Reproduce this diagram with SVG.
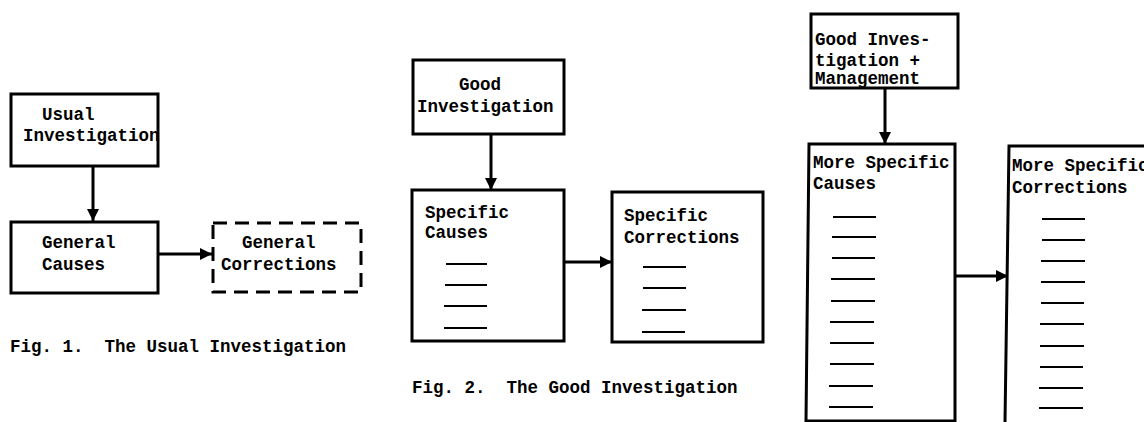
<svg xmlns="http://www.w3.org/2000/svg" width="1144" height="422" viewBox="0 0 1144 422">
<style>
.box{fill:none;stroke:#000;stroke-width:3}
.dash{fill:none;stroke:#000;stroke-width:3;stroke-dasharray:14 8}
.conn{fill:none;stroke:#000;stroke-width:3}
.blank{stroke:#000;stroke-width:2}
text{font-family:"Liberation Mono","Courier New",monospace;font-size:17.5px;fill:#000;font-weight:bold;white-space:pre}
</style>
<defs>
<marker id="ah" viewBox="0 0 10 10" refX="10" refY="5" markerWidth="4" markerHeight="4" orient="auto" markerUnits="strokeWidth">
<path d="M0,0 L10,5 L0,10 z" fill="#000"/>
</marker>
</defs>
<rect width="1144" height="422" fill="#fff"/>

<g id="connectors">
<line class="conn" x1="93" y1="167" x2="93" y2="221" marker-end="url(#ah)"/>
<line class="conn" x1="158" y1="254" x2="212" y2="254" marker-end="url(#ah)"/>
<line class="conn" x1="491" y1="134" x2="491" y2="190" marker-end="url(#ah)"/>
<line class="conn" x1="564" y1="262" x2="612" y2="262" marker-end="url(#ah)"/>
<line class="conn" x1="885" y1="88" x2="885" y2="144" marker-end="url(#ah)"/>
<line class="conn" x1="955" y1="276" x2="1008" y2="276" marker-end="url(#ah)"/>
</g>

<g id="usual-investigation">
<rect class="box" x="11" y="94" width="147" height="72"/>
<text x="42" y="120">Usual</text>
<text x="23" y="141">Investigation</text>
</g>
<g id="general-causes">
<rect class="box" x="11" y="222" width="147" height="71"/>
<text x="42" y="248">General</text>
<text x="42" y="270">Causes</text>
</g>
<g id="general-corrections">
<rect class="dash" x="213" y="223" width="148" height="69"/>
<text x="242" y="248">General</text>
<text x="221" y="270">Corrections</text>
</g>
<text id="caption-1" x="10" y="352">Fig. 1.  The Usual Investigation</text>

<g id="good-investigation">
<rect class="box" x="413" y="60" width="151" height="74"/>
<text x="459" y="90">Good</text>
<text x="417" y="112">Investigation</text>
</g>
<g id="specific-causes">
<rect class="box" x="412" y="190" width="152" height="151"/>
<text x="425" y="218">Specific</text>
<text x="425" y="238">Causes</text>
<line class="blank" x1="446" y1="264" x2="487" y2="264"/>
<line class="blank" x1="445" y1="285" x2="487" y2="285"/>
<line class="blank" x1="444" y1="306" x2="487" y2="306"/>
<line class="blank" x1="444" y1="328" x2="487" y2="328"/>
</g>
<g id="specific-corrections">
<rect class="box" x="612" y="192" width="151" height="150"/>
<text x="624" y="221">Specific</text>
<text x="624" y="243">Corrections</text>
<line class="blank" x1="643" y1="267" x2="686" y2="267"/>
<line class="blank" x1="643" y1="288" x2="686" y2="288"/>
<line class="blank" x1="642" y1="310" x2="686" y2="310"/>
<line class="blank" x1="642" y1="332" x2="685" y2="332"/>
</g>
<text id="caption-2" x="412" y="393">Fig. 2.  The Good Investigation</text>

<g id="good-investigation-management">
<rect class="box" x="811" y="14" width="147" height="74"/>
<text x="815" y="45">Good Inves-</text>
<text x="815" y="66">tigation +</text>
<text x="815" y="84">Management</text>
</g>
<g id="more-specific-causes">
<path class="box" d="M809,144 L955,144 L955,421 L806,421 Z"/>
<text x="813" y="168">More Specific</text>
<text x="813" y="189">Causes</text>
<line class="blank" x1="833" y1="217" x2="876" y2="217"/>
<line class="blank" x1="832" y1="237" x2="876" y2="237"/>
<line class="blank" x1="832" y1="258" x2="875" y2="258"/>
<line class="blank" x1="831" y1="279" x2="875" y2="279"/>
<line class="blank" x1="831" y1="301" x2="875" y2="301"/>
<line class="blank" x1="830" y1="322" x2="874" y2="322"/>
<line class="blank" x1="830" y1="343" x2="874" y2="343"/>
<line class="blank" x1="830" y1="364" x2="874" y2="364"/>
<line class="blank" x1="829" y1="386" x2="873" y2="386"/>
<line class="blank" x1="829" y1="407" x2="873" y2="407"/>
</g>
<g id="more-specific-corrections">
<path class="box" d="M1005,422 L1009,146 L1146,146"/>
<text x="1012" y="171">More Specific</text>
<text x="1012" y="193">Corrections</text>
<line class="blank" x1="1042" y1="219" x2="1085" y2="219"/>
<line class="blank" x1="1042" y1="240" x2="1085" y2="240"/>
<line class="blank" x1="1041" y1="261" x2="1085" y2="261"/>
<line class="blank" x1="1041" y1="282" x2="1085" y2="282"/>
<line class="blank" x1="1041" y1="303" x2="1084" y2="303"/>
<line class="blank" x1="1040" y1="324" x2="1084" y2="324"/>
<line class="blank" x1="1040" y1="346" x2="1084" y2="346"/>
<line class="blank" x1="1040" y1="367" x2="1083" y2="367"/>
<line class="blank" x1="1039" y1="388" x2="1083" y2="388"/>
<line class="blank" x1="1039" y1="408" x2="1083" y2="408"/>
</g>
</svg>
